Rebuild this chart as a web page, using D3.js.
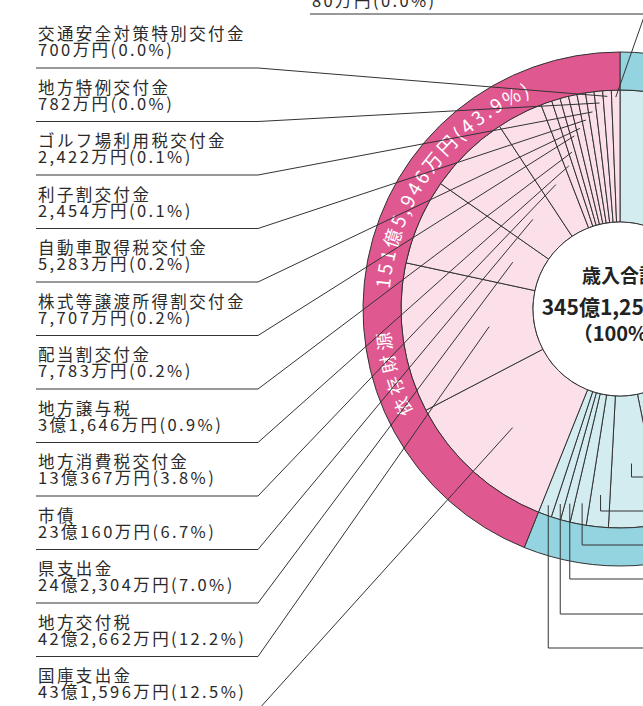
<!DOCTYPE html>
<html><head><meta charset="utf-8">
<script src="https://cdn.jsdelivr.net/npm/d3@7/dist/d3.min.js"></script>
<style>
html,body{margin:0;padding:0;background:#fff;overflow:hidden}
svg{display:block}
text{font-family:"Noto Sans CJK JP","Noto Sans",sans-serif}
</style></head><body>
<svg id="chart" width="643" height="706"></svg>
<script>
// ---------- data (万円) ----------
const groupNames = ["自主財源", "依存財源"];
const independentNames = ["市税","繰入金","繰越金","諸収入","使用料及び手数料","分担金及び負担金","財産収入","寄附金"];
const independentValues = [1390000, 225000, 140000, 56000, 41000, 25000, 24000, 34307];
const dependentNames = ["国庫支出金","地方交付税","県支出金","市債","地方消費税交付金","地方譲与税","配当割交付金","株式等譲渡所得割交付金","自動車取得税交付金","利子割交付金","ゴルフ場利用税交付金","地方特例交付金","交通安全対策特別交付金","環境性能割交付金"];
const dependentValues = [431596, 422662, 242304, 230160, 130367, 31646, 7783, 7707, 5283, 2454, 2422, 782, 700, 80];
const totalTitle = "歳入合計";
const totalAmount = "345億1,253万円";
const totalPercent = "（100%）";

// ---------- layout ----------
const W = 643, H = 706;
const cx = 620, cy = 309;
const rHole = 87, rInner = 219, rOuter = 257;
const minShare = 0.007;              // smallest slice drawn at this share of the whole
const depLeaderR = [160,132,117,125,140,152,164,179,185,192,199,207,213,212];
const indLeaderR = [null,null,155,187,198,201,204,209];
const indLeaderY = [null,null,477,511,545,579,614,648];
const rowStep = 53.5, bottomRowY = 710;

const C = {ringPink:"#df5990", pink:"#fbe0ea", ringBlue:"#94d3e0", blue:"#d3ecf0", line:"#333"};

const svg = d3.select("#chart");
const g = svg.append("g");

const indTotal = d3.sum(independentValues), depTotal = d3.sum(dependentValues);
const total = indTotal + depTotal;
const pct = d3.format(".1%");
const fmtAmount = v => {
  const oku = Math.floor(v / 10000), man = v % 10000;
  return (oku ? oku + "億" : "") + (man ? d3.format(",")(man) : "") + "万円";
};

// groups (outer ring)
const groups = d3.pie().sort(null).value(d => d.value)([
  {name: groupNames[0], value: indTotal},
  {name: groupNames[1], value: depTotal}
]);
const floorV = total * minShare;
function slices(names, values, grp) {
  const items = names.map((n, i) => ({name: n, value: values[i], i}));
  return d3.pie().sort(null).startAngle(grp.startAngle).endAngle(grp.endAngle)
    .value(d => Math.max(d.value, floorV))(items);
}
const indSlices = slices(independentNames, independentValues, groups[0]);
const depSlices = slices(dependentNames, dependentValues, groups[1]);

const arcInner = d3.arc().innerRadius(rHole).outerRadius(rInner);
const arcRing = d3.arc().innerRadius(rInner).outerRadius(rOuter);
const G = g.append("g").attr("transform", `translate(${cx},${cy})`);

G.selectAll("path.ind").data(indSlices).join("path")
  .attr("d", arcInner).attr("fill", C.blue).attr("stroke", C.line).attr("stroke-width", 1);
G.selectAll("path.dep").data(depSlices).join("path")
  .attr("d", arcInner).attr("fill", C.pink).attr("stroke", C.line).attr("stroke-width", 1);
G.selectAll("path.ring").data(groups).join("path")
  .attr("d", arcRing).attr("fill", (d, i) => i ? C.ringPink : C.ringBlue)
  .attr("stroke", C.line).attr("stroke-width", 1);
G.append("circle").attr("r", rHole).attr("fill", "#fff").attr("stroke", C.line).attr("stroke-width", 1);

const polar = (a, r) => [cx + r * Math.sin(a), cy - r * Math.cos(a)];
const mid = d => (d.startAngle + d.endAngle) / 2;

// ring text along arcs
const defs = svg.append("defs");
function arcPath(id, a0deg, a1deg, r) {
  const a0 = a0deg * Math.PI / 180, a1 = a1deg * Math.PI / 180;
  const [x0, y0] = polar(a0, r), [x1, y1] = polar(a1, r);
  defs.append("path").attr("id", id)
    .attr("d", `M${x0},${y0} A${r},${r} 0 ${a1 - a0 > Math.PI ? 1 : 0} 1 ${x1},${y1}`);
}
arcPath("ringA", 243.5, 272, 231);
arcPath("ringB", 275, 350, 231);
g.append("text").attr("fill", "#fff").attr("font-size", 18).attr("letter-spacing", 4)
  .append("textPath").attr("href", "#ringA").text(groupNames[1]);
g.append("text").attr("fill", "#fff").attr("font-size", 19).attr("letter-spacing", 2.8)
  .append("textPath").attr("href", "#ringB")
  .text(fmtAmount(depTotal) + "(" + pct(depTotal / total) + ")");

// dependent labels with leaders
const labels = g.append("g");
depSlices.forEach(d => {
  const i = d.data.i;
  const top = i === dependentNames.length - 1;
  const y = top ? 14 : bottomRowY - i * rowStep;
  const x0 = top ? 310 : 36, x1 = top ? 645 : 258;
  const [ex, ey] = polar(mid(d), depLeaderR[i]);
  labels.append("path").attr("d", `M${x0},${y}L${x1},${y}L${ex},${ey}`)
    .attr("fill", "none").attr("stroke", C.line).attr("stroke-width", 1);
  const t = labels.append("text").attr("font-size", 16.5).attr("letter-spacing", 2.4).attr("fill", "#2a2a2a");
  const b2 = top ? y - 7 : y - 12;
  t.append("tspan").attr("x", x0 + 2).attr("y", b2 - 16).text(d.data.name);
  t.append("tspan").attr("x", x0 + 2).attr("y", b2)
    .text(fmtAmount(d.data.value) + "(" + pct(d.data.value / total) + ")");
});

// independent leaders (labels lie beyond the right edge)
indSlices.forEach(d => {
  const i = d.data.i;
  if (indLeaderR[i] == null) return;
  const [sx, sy] = polar(mid(d), indLeaderR[i]);
  labels.append("path").attr("d", `M${sx},${sy}L${sx},${indLeaderY[i]}L${W + 60},${indLeaderY[i]}`)
    .attr("fill", "none").attr("stroke", C.line).attr("stroke-width", 1);
});

// centre text
const ct = g.append("g").attr("font-weight", "bold").attr("fill", "#222").attr("text-anchor", "middle");
ct.append("text").attr("x", cx).attr("y", 283).attr("font-size", 19).text(totalTitle);
ct.append("text").attr("x", cx).attr("y", 315).attr("font-size", 21).text(totalAmount);
ct.append("text").attr("x", cx).attr("y", 341).attr("font-size", 20).text(totalPercent);
</script>
</body></html>
